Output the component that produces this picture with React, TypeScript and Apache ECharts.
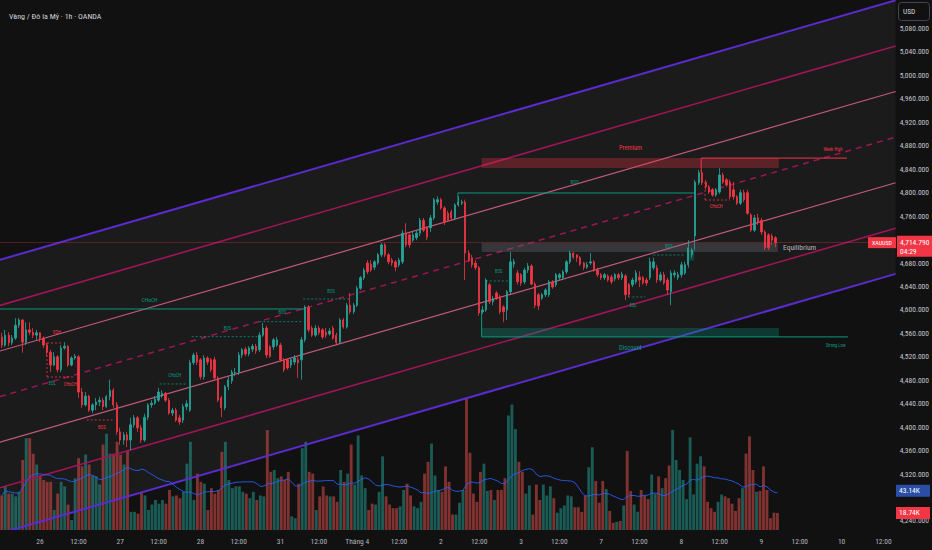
import React, { useEffect, useRef } from "react";
import * as echarts from "echarts";

const TOTAL_SLOTS = 257;
const FONT = "'Liberation Sans Narrow', 'Arial Narrow', 'Roboto Condensed', sans-serif";

// [open, close, low, high]
const candles: number[][] = [
  [4554,4540,4535,4561],[4540,4557,4537,4566],[4557,4544,4538,4562],[4544,4552,4540,4557],[4552,4574,4549,4586],
  [4574,4583,4569,4586],[4583,4545,4527,4584],[4545,4566,4540,4579],[4566,4562,4557,4579],[4562,4557,4552,4569],
  [4557,4561,4549,4566],[4561,4552,4545,4562],[4552,4540,4535,4555],[4540,4528,4521,4544],[4528,4506,4494,4532],
  [4506,4520,4504,4528],[4520,4498,4493,4523],[4498,4535,4494,4540],[4535,4538,4532,4545],[4538,4506,4503,4540],
  [4506,4518,4504,4521],[4518,4521,4515,4525],[4520,4460,4450,4523],[4460,4438,4433,4467],[4438,4453,4435,4460],
  [4453,4429,4426,4455],[4429,4438,4424,4441],[4438,4443,4429,4450],[4443,4446,4436,4452],[4446,4435,4429,4450],
  [4435,4452,4433,4455],[4452,4463,4446,4481],[4463,4438,4433,4467],[4438,4392,4387,4443],[4392,4378,4370,4399],
  [4378,4387,4370,4392],[4387,4378,4366,4392],[4378,4404,4361,4416],[4404,4416,4399,4421],[4416,4399,4392,4419],
  [4399,4378,4373,4404],[4378,4417,4375,4423],[4417,4438,4412,4441],[4438,4441,4433,4446],[4441,4448,4438,4453],
  [4446,4460,4443,4467],[4453,4458,4450,4463],[4458,4446,4443,4460],[4446,4424,4421,4450],[4424,4429,4419,4433],
  [4429,4412,4409,4433],[4416,4409,4404,4421],[4412,4435,4407,4440],[4435,4440,4429,4446],[4429,4510,4426,4515],
  [4510,4523,4506,4527],[4523,4511,4506,4528],[4515,4486,4481,4518],[4486,4518,4481,4523],[4518,4511,4506,4521],
  [4515,4498,4494,4518],[4515,4484,4481,4520],[4484,4446,4443,4487],[4450,4433,4417,4453],[4433,4469,4429,4472],
  [4469,4481,4463,4486],[4479,4494,4474,4498],[4493,4494,4487,4501],[4494,4523,4489,4528],[4523,4532,4518,4535],
  [4533,4525,4521,4537],[4525,4535,4521,4538],[4533,4538,4528,4542],[4538,4530,4525,4542],[4532,4557,4528,4562],
  [4557,4569,4554,4578],[4569,4523,4518,4573],[4537,4521,4518,4540],[4537,4549,4532,4552],[4540,4549,4537,4554],
  [4540,4515,4511,4544],[4515,4498,4494,4518],[4515,4501,4498,4518],[4506,4515,4501,4518],[4511,4518,4506,4523],
  [4515,4510,4484,4520],[4515,4549,4481,4554],[4549,4605,4545,4608],[4605,4566,4562,4608],[4569,4557,4554,4573],
  [4557,4569,4554,4574],[4569,4561,4557,4573],[4566,4554,4550,4569],[4562,4557,4552,4569],[4559,4564,4556,4569],
  [4569,4552,4549,4573],[4557,4544,4540,4561],[4545,4583,4542,4586],[4583,4571,4568,4586],[4571,4608,4568,4612],
  [4608,4597,4593,4629],[4597,4608,4593,4612],[4608,4637,4605,4641],[4637,4655,4634,4658],[4655,4668,4651,4672],
  [4680,4665,4661,4685],[4678,4668,4665,4685],[4673,4682,4668,4685],[4680,4694,4677,4697],[4694,4711,4690,4714],
  [4711,4694,4690,4714],[4694,4682,4678,4697],[4685,4680,4675,4689],[4682,4673,4666,4685],[4677,4685,4673,4689],
  [4682,4731,4678,4736],[4731,4711,4707,4748],[4728,4711,4706,4731],[4719,4728,4716,4733],[4723,4731,4719,4736],
  [4731,4753,4726,4757],[4753,4736,4733,4757],[4740,4724,4719,4743],[4740,4757,4733,4762],[4757,4788,4753,4791],
  [4784,4788,4779,4794],[4788,4774,4771,4791],[4774,4750,4745,4777],[4765,4753,4750,4769],[4767,4757,4753,4771],
  [4757,4779,4753,4782],[4779,4784,4776,4794],[4782,4784,4779,4788],[4784,4697,4651,4788],[4697,4685,4682,4702],
  [4689,4677,4672,4694],[4680,4672,4668,4685],[4672,4595,4590,4675],[4597,4600,4593,4607],[4600,4651,4597,4654],
  [4643,4614,4610,4646],[4614,4619,4608,4624],[4629,4620,4617,4632],[4622,4597,4593,4626],[4605,4597,4579,4608],
  [4600,4631,4583,4634],[4631,4682,4627,4699],[4678,4682,4672,4687],[4663,4648,4643,4668],[4660,4646,4641,4663],
  [4648,4668,4644,4672],[4668,4675,4663,4680],[4675,4644,4643,4678],[4644,4608,4603,4648],[4626,4607,4600,4629],
  [4620,4626,4617,4629],[4626,4634,4622,4637],[4626,4648,4622,4651],[4648,4639,4636,4651],[4643,4660,4639,4663],
  [4655,4660,4651,4663],[4655,4665,4651,4668],[4665,4682,4661,4685],[4682,4697,4678,4701],[4697,4690,4687,4699],
  [4694,4689,4682,4695],[4689,4678,4675,4692],[4680,4673,4668,4682],[4673,4677,4670,4682],[4680,4682,4677,4697],
  [4682,4668,4665,4685],[4668,4660,4656,4672],[4660,4655,4651,4663],[4655,4660,4651,4663],[4658,4651,4648,4661],
  [4656,4648,4644,4660],[4653,4660,4649,4663],[4660,4655,4651,4663],[4655,4661,4651,4665],[4658,4626,4617,4661],
  [4643,4626,4622,4646],[4643,4651,4639,4655],[4648,4663,4644,4668],[4656,4651,4639,4666],[4655,4646,4643,4658],
  [4651,4646,4641,4655],[4655,4682,4651,4689],[4672,4682,4668,4689],[4672,4651,4646,4677],[4651,4660,4648,4665],
  [4660,4646,4643,4665],[4651,4634,4626,4655],[4631,4663,4608,4668],[4660,4663,4655,4668],[4655,4660,4651,4665],
  [4660,4677,4655,4682],[4663,4677,4660,4682],[4677,4706,4672,4719],[4694,4702,4689,4706],[4726,4818,4702,4822],
  [4817,4834,4813,4839],[4834,4817,4813,4839],[4818,4810,4805,4822],[4810,4801,4798,4813],[4805,4796,4793,4808],
  [4796,4805,4793,4808],[4801,4830,4798,4842],[4830,4818,4815,4834],[4822,4813,4810,4825],[4818,4793,4789,4822],
  [4805,4793,4788,4818],[4793,4782,4779,4796],[4782,4800,4779,4805],[4800,4788,4784,4805],[4800,4765,4762,4805],
  [4762,4736,4733,4765],[4736,4757,4733,4762],[4757,4750,4745,4764],[4753,4733,4728,4757],[4733,4706,4702,4736],
  [4728,4706,4702,4731],[4726,4719,4711,4730],[4723,4714.79,4707,4726],
];

// volume in thousands
const volumes: number[] = [
  38,48,40,40,37,42,77,101,101,84,
  72,60,55,53,53,22,40,53,48,28,
  11,57,79,70,83,72,60,59,50,94,
  106,84,84,97,83,72,88,20,20,18,
  42,38,22,28,33,29,33,29,44,37,
  38,35,42,73,97,33,62,53,51,22,
  46,40,44,86,97,55,46,48,48,42,
  40,35,42,33,38,37,110,64,66,57,
  59,55,64,15,13,51,90,97,64,62,
  22,37,48,38,37,37,31,66,53,62,
  94,50,104,60,46,22,29,28,42,81,
  37,28,24,24,26,44,51,38,26,24,
  31,62,75,95,60,44,42,70,53,17,
  17,30,44,145,85,40,31,64,73,43,
  44,33,44,44,57,126,138,111,75,64,
  40,49,17,50,33,50,38,48,35,19,
  24,27,38,37,25,25,20,38,69,91,
  54,30,54,45,21,8,9,10,27,87,
  43,28,20,44,38,34,61,40,59,46,
  57,71,110,77,66,55,34,102,39,73,
  81,70,31,24,20,31,39,37,35,29,
  21,35,46,84,103,66,42,43,70,44,
  13,19,18.74,
];

const timeLabels: [number, string][] = [
  [11, "26"], [22, "12:00"], [34, "27"], [45, "12:00"], [57, "28"], [68, "12:00"],
  [80, "31"], [91, "12:00"], [102, "Tháng 4"], [114, "12:00"], [126, "2"], [137, "12:00"],
  [149, "3"], [160, "12:00"], [172, "7"], [183, "12:00"], [195, "8"], [206, "12:00"],
  [218, "9"], [229, "12:00"], [241, "10"], [253, "12:00"],
];

// 4,280 and 4,720 sit under the volume-MA and last-price tags in the reference
const priceTicks = [
  4240, 4320, 4360, 4400, 4440, 4480, 4520, 4560, 4600, 4640, 4680,
  4760, 4800, 4840, 4880, 4920, 4960, 5000, 5040, 5080,
];

const title = "Vàng / Đô la Mỹ · 1h · OANDA";
const symbolName = "XAUUSD";
const lastPrice = 4714.79;
const countdown = "04:29";
const volumeMaLast = 43.14;
const lastVolume = 18.74;
const maPeriod = 20;

// parallel channel: price at the left edge (slot -0.5) and at the right edge (slot 256.5)
const channelSpan = [-0.5, 256.5];
const channelStart = [4685.5, 4607.8, 4529.9, 4452.2, 4374.4, 4296.6, 4218.8];
const channelEnd = [5128.2, 5050.4, 4972.6, 4894.8, 4817.0, 4739.3, 4661.5];
const channelKinds = ["outer", "inner", "mid", "median", "mid", "inner", "outer"];

// zones: [startSlot, endSlot, topPrice, bottomPrice, tone]
const zones: [number, number, number, number, string][] = [
  [137.7, 223.0, 4859, 4842, "bear"],
  [137.7, 222.7, 4714, 4699, "neutral"],
  [137.7, 223.0, 4569, 4554, "bull"],
  [196.7, 198.7, 4702, 4684, "bull"],
];

// structure segments: [slot0, price0, slot1, price1, tone, dashed]
const structLines: [number, number, number, number, string, boolean][] = [
  [200.7, 4859, 242.5, 4859, "bear", false],
  [200.7, 4859, 200.7, 4834, "bear", false],
  [137.7, 4554, 242.8, 4554, "bull", false],
  [137.7, 4600, 137.7, 4554, "bull", false],
  [-0.5, 4601.6, 86.8, 4601.6, "bull", false],
  [130.9, 4799.5, 198.7, 4799.5, "bull", false],
  [130.9, 4799.5, 130.9, 4784, "bull", false],
  [54.5, 4554.4, 73.3, 4554.4, "bull", true],
  [73.9, 4580, 86.2, 4580, "bull", true],
  [45.3, 4473.7, 53.3, 4473.7, "bull", true],
  [86.5, 4618.7, 100.2, 4618.7, "bull", true],
  [13.0, 4543.6, 17.5, 4543.6, "bear", true],
  [13.0, 4485.6, 21.0, 4485.6, "bear", true],
  [13.0, 4543.6, 13.0, 4485.6, "bear", true],
  [24.4, 4412.3, 31.8, 4412.3, "bear", true],
  [138.9, 4649.4, 145.5, 4649.4, "bull", true],
  [179.8, 4622.1, 184.7, 4622.1, "bull", true],
  [187.0, 4693.7, 196.1, 4693.7, "bull", true],
  [201.8, 4787.5, 209.0, 4787.5, "bear", true],
  [201.8, 4818.3, 201.8, 4787.5, "bear", true],
];

// labels: [slot, price, text, tone, fontSize, align]
const structLabels: [number, number, string, string, number, string][] = [
  [42.4, 4617, "CHoCH", "bull", 5.5, "center"],
  [164.4, 4818, "BOS", "bull", 5, "center"],
  [64.8, 4569, "BOS", "bull", 4.5, "center"],
  [80.5, 4595, "BOS", "bull", 4.5, "center"],
  [49.6, 4489, "CHoCH", "bull", 4.5, "center"],
  [94.5, 4632, "BOS", "bull", 4.5, "center"],
  [15.8, 4561, "EQH", "bear", 4.5, "center"],
  [14.5, 4474, "EQL", "bull", 4.5, "center"],
  [17.8, 4472, "CHoCH", "bear", 4.5, "left"],
  [28.7, 4399, "BOS", "bear", 4.5, "center"],
  [142.6, 4665, "BOS", "bull", 4.5, "center"],
  [181.2, 4608, "EQL", "bull", 4.5, "center"],
  [191.5, 4709, "BOS", "bull", 4.5, "center"],
  [205.0, 4776, "CHoCH", "bear", 4.5, "center"],
  [180.4, 4876, "Premium", "bear", 6.5, "center"],
  [180.4, 4535, "Discount", "bull", 6.5, "center"],
  [224.2, 4707, "Equilibrium", "neutral", 7.5, "left"],
  [238.5, 4873, "Weak High", "bear", 4.5, "center"],
  [239.3, 4540, "Strong Low", "bull", 4.5, "center"],
];

const UP = "#26a69a";
const DOWN = "#f23645";
const TONE: Record<string, string> = { bull: "#089981", bear: "#f23645", neutral: "#b2b5be" };
const ZONE_FILL: Record<string, string> = {
  bull: "rgba(8,153,129,0.3)",
  bear: "rgba(242,54,69,0.3)",
  neutral: "rgba(120,123,134,0.3)",
};
const CHANNEL_STYLE: Record<string, { stroke: string; width: number; dash?: number[] }> = {
  outer: { stroke: "#5a2bcf", width: 2 },
  inner: { stroke: "#a01459", width: 1.6 },
  mid: { stroke: "#c4587c", width: 1.2 },
  median: { stroke: "#a01459", width: 1.5, dash: [6, 5] },
};

export default function App() {
  const ref = useRef<HTMLDivElement>(null);

  useEffect(() => {
    document.body.style.margin = "0";
    document.body.style.background = "#111111";
    if (!ref.current) return;
    const chart = echarts.init(ref.current, undefined, { renderer: "svg" });

    const labelMap = new Map<number, string>(timeLabels);
    const categories = Array.from({ length: TOTAL_SLOTS }, (_, i) => "s" + i);

    const volumeData = volumes.map((v, i) => ({
      value: v,
      itemStyle: {
        color: candles[i][1] >= candles[i][0] ? "rgba(38,166,154,0.5)" : "rgba(239,83,80,0.5)",
      },
    }));

    const volumeMA = volumes.map((_, i) => {
      const from = Math.max(0, i - maPeriod + 1);
      let s = 0;
      for (let j = from; j <= i; j++) s += volumes[j];
      return +(s / (i - from + 1)).toFixed(2);
    });

    const fmtPrice = (v: number) =>
      v.toLocaleString("en-US", { minimumFractionDigits: 3, maximumFractionDigits: 3 });

    const option: any = {
      animation: false,
      backgroundColor: "#111111",
      title: {
        text: title,
        left: 4,
        top: 7,
        textStyle: { color: "#d1d4dc", fontSize: 8, fontWeight: "normal", fontFamily: FONT },
      },
      grid: [
        { left: 0, right: 34, top: 0, bottom: 20 },
        { left: 0, right: 34, top: 330, bottom: 20 },
      ],
      xAxis: [
        {
          type: "category",
          gridIndex: 0,
          data: categories,
          boundaryGap: true,
          axisLine: { show: false },
          axisTick: { show: false },
          splitLine: { show: false },
          axisLabel: {
            interval: (index: number) => labelMap.has(index),
            formatter: (_v: string, index: number) => labelMap.get(index) ?? "",
            color: "#b2b5be",
            fontSize: 7.5,
            fontFamily: FONT,
            margin: 7,
          },
        },
        {
          type: "category",
          gridIndex: 1,
          data: categories,
          boundaryGap: true,
          show: false,
        },
        {
          type: "value",
          gridIndex: 0,
          min: channelSpan[0],
          max: channelSpan[1],
          show: false,
        },
      ],
      yAxis: [
        {
          type: "value",
          gridIndex: 0,
          position: "right",
          min: 4224.6,
          max: 5128.7,
          scale: true,
          axisLine: { show: false },
          axisTick: { show: false },
          splitLine: { show: false },
          axisLabel: {
            customValues: priceTicks,
            formatter: (v: number) => fmtPrice(v),
            color: "#c5c8d0",
            fontSize: 7.5,
            fontFamily: FONT,
            margin: 4,
          },
        },
        {
          type: "value",
          gridIndex: 1,
          min: 0,
          max: 220,
          show: false,
        },
      ],
      series: [
        {
          type: "custom",
          name: "channelFill",
          xAxisIndex: 2,
          yAxisIndex: 0,
          clip: true,
          silent: true,
          z: 0,
          data: [[0, 4700]],
          renderItem: (_p: any, api: any) => {
            const last = channelStart.length - 1;
            const a = api.coord([channelSpan[0], channelStart[0]]);
            const b = api.coord([channelSpan[1], channelEnd[0]]);
            const c = api.coord([channelSpan[1], channelEnd[last]]);
            const d = api.coord([channelSpan[0], channelStart[last]]);
            return {
              type: "polygon",
              shape: { points: [a, b, c, d] },
              style: { fill: "rgba(255,255,255,0.045)" },
            };
          },
        },
        {
          type: "bar",
          name: "Volume",
          xAxisIndex: 1,
          yAxisIndex: 1,
          data: volumeData,
          barCategoryGap: "18%",
          silent: true,
          z: 1,
        },
        {
          type: "line",
          name: "Volume MA",
          xAxisIndex: 1,
          yAxisIndex: 1,
          data: volumeMA,
          symbol: "none",
          lineStyle: { color: "#2962ff", width: 1, opacity: 0.85 },
          silent: true,
          z: 2,
        },
        {
          type: "custom",
          name: "channel",
          xAxisIndex: 2,
          yAxisIndex: 0,
          clip: true,
          silent: true,
          z: 2,
          data: channelStart.map((p, i) => [i, p]),
          renderItem: (params: any, api: any) => {
            const k = params.dataIndex;
            const a = api.coord([channelSpan[0], channelStart[k]]);
            const b = api.coord([channelSpan[1], channelEnd[k]]);
            const st = CHANNEL_STYLE[channelKinds[k]];
            return {
              type: "line",
              shape: { x1: a[0], y1: a[1], x2: b[0], y2: b[1] },
              style: { stroke: st.stroke, lineWidth: st.width, lineDash: st.dash || null },
            };
          },
        },
        {
          type: "custom",
          name: "zones",
          xAxisIndex: 2,
          yAxisIndex: 0,
          clip: true,
          silent: true,
          z: 3,
          data: zones.map((z) => [z[0], z[2]]),
          renderItem: (params: any, api: any) => {
            const z = zones[params.dataIndex];
            const a = api.coord([z[0], z[2]]);
            const b = api.coord([z[1], z[3]]);
            return {
              type: "rect",
              shape: { x: a[0], y: a[1], width: b[0] - a[0], height: b[1] - a[1] },
              style: { fill: ZONE_FILL[z[4]] },
            };
          },
        },
        {
          type: "custom",
          name: "structure",
          xAxisIndex: 2,
          yAxisIndex: 0,
          clip: true,
          silent: true,
          z: 4,
          data: structLines.map((l) => [l[0], l[1]]),
          renderItem: (params: any, api: any) => {
            const l = structLines[params.dataIndex];
            const a = api.coord([l[0], l[1]]);
            const b = api.coord([l[2], l[3]]);
            return {
              type: "line",
              shape: { x1: a[0], y1: a[1], x2: b[0], y2: b[1] },
              style: {
                stroke: TONE[l[4]],
                lineWidth: l[5] ? 0.8 : 1,
                lineDash: l[5] ? [2, 2] : null,
              },
            };
          },
        },
        {
          type: "candlestick",
          name: symbolName,
          xAxisIndex: 0,
          yAxisIndex: 0,
          data: candles,
          barWidth: 1.9,
          z: 5,
          itemStyle: {
            color: UP,
            color0: DOWN,
            borderColor: UP,
            borderColor0: DOWN,
            borderWidth: 0.8,
          },
          markLine: {
            silent: true,
            symbol: ["none", "none"],
            label: { show: false },
            lineStyle: { color: "rgba(242,54,69,0.3)", width: 1, type: "solid" },
            data: [{ yAxis: lastPrice }],
          },
        },
        {
          type: "custom",
          name: "labels",
          xAxisIndex: 2,
          yAxisIndex: 0,
          clip: true,
          silent: true,
          z: 6,
          data: structLabels.map((l) => [l[0], l[1]]),
          renderItem: (params: any, api: any) => {
            const l = structLabels[params.dataIndex];
            const p = api.coord([l[0], l[1]]);
            return {
              type: "text",
              x: p[0],
              y: p[1],
              style: {
                text: l[2],
                fill: TONE[l[3]],
                fontSize: l[4],
                fontFamily: FONT,
                align: l[5],
                verticalAlign: "middle",
              },
            };
          },
        },
      ],
    };

    chart.setOption(option);

    const yPrice = chart.convertToPixel({ yAxisIndex: 0 }, lastPrice) as number;
    const yMa = chart.convertToPixel({ yAxisIndex: 1 }, volumeMaLast) as number;
    const yVol = chart.convertToPixel({ yAxisIndex: 1 }, lastVolume) as number;

    chart.setOption({
      graphic: {
        elements: [
          {
            type: "rect",
            z: 100,
            shape: { x: 898.5, y: 2.5, width: 31, height: 18, r: 3 },
            style: { fill: "#111111", stroke: "#434651", lineWidth: 1 },
          },
          {
            type: "text",
            z: 101,
            x: 903,
            y: 11.5,
            style: { text: "USD", fill: "#d1d4dc", fontSize: 7.5, fontFamily: FONT, verticalAlign: "middle" },
          },
          {
            type: "rect",
            z: 100,
            shape: { x: 868, y: yPrice - 5.5, width: 28, height: 11 },
            style: { fill: "#f23645" },
          },
          {
            type: "text",
            z: 101,
            x: 882,
            y: yPrice,
            style: {
              text: symbolName,
              fill: "#ffffff",
              fontSize: 6,
              fontFamily: FONT,
              align: "center",
              verticalAlign: "middle",
            },
          },
          {
            type: "rect",
            z: 100,
            shape: { x: 897, y: yPrice - 7, width: 35, height: 21 },
            style: { fill: "#f23645" },
          },
          {
            type: "text",
            z: 101,
            x: 900,
            y: yPrice,
            style: {
              text: fmtPrice(lastPrice),
              fill: "#ffffff",
              fontSize: 7.5,
              fontFamily: FONT,
              verticalAlign: "middle",
            },
          },
          {
            type: "text",
            z: 101,
            x: 900,
            y: yPrice + 8.5,
            style: { text: countdown, fill: "#ffffff", fontSize: 7.5, fontFamily: FONT, verticalAlign: "middle" },
          },
          {
            type: "rect",
            z: 100,
            shape: { x: 896, y: yMa - 6, width: 34, height: 12 },
            style: { fill: "#2a4ea6" },
          },
          {
            type: "text",
            z: 101,
            x: 899,
            y: yMa,
            style: {
              text: volumeMaLast.toFixed(2) + "K",
              fill: "#ffffff",
              fontSize: 7.5,
              fontFamily: FONT,
              verticalAlign: "middle",
            },
          },
          {
            type: "rect",
            z: 100,
            shape: { x: 896, y: yVol - 6, width: 34, height: 12 },
            style: { fill: "#f23645" },
          },
          {
            type: "text",
            z: 101,
            x: 899,
            y: yVol,
            style: {
              text: lastVolume.toFixed(2) + "K",
              fill: "#ffffff",
              fontSize: 7.5,
              fontFamily: FONT,
              verticalAlign: "middle",
            },
          },
        ],
      },
    });

    return () => chart.dispose();
  }, []);

  return <div ref={ref} style={{ width: 932, height: 550 }} />;
}
